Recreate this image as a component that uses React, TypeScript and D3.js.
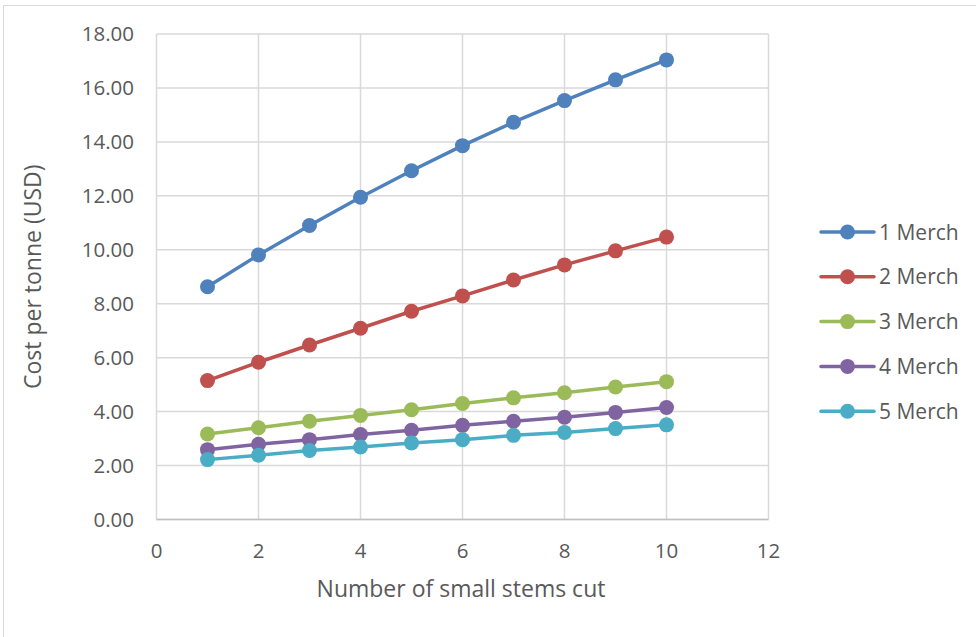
import React from "react";
import * as d3 from "d3";

const xValues = [1, 2, 3, 4, 5, 6, 7, 8, 9, 10];
const seriesNames = ["1 Merch", "2 Merch", "3 Merch", "4 Merch", "5 Merch"];
const merch1 = [8.63, 9.81, 10.9, 11.95, 12.93, 13.86, 14.73, 15.53, 16.3, 17.04];
const merch2 = [5.15, 5.83, 6.47, 7.09, 7.72, 8.29, 8.88, 9.44, 9.96, 10.47];
const merch3 = [3.17, 3.4, 3.64, 3.86, 4.07, 4.3, 4.51, 4.7, 4.91, 5.11];
const merch4 = [2.59, 2.79, 2.96, 3.15, 3.31, 3.49, 3.64, 3.79, 3.97, 4.15];
const merch5 = [2.22, 2.38, 2.56, 2.69, 2.84, 2.96, 3.12, 3.23, 3.37, 3.51];
const seriesValues = [merch1, merch2, merch3, merch4, merch5];
const colors = ["#4F81BD", "#C0504D", "#9BBB59", "#8064A2", "#4BACC6"];
const xTicks = [0, 2, 4, 6, 8, 10, 12];
const yTicks = [0, 2, 4, 6, 8, 10, 12, 14, 16, 18];

const W = 976;
const H = 637;
const font = "'Open Sans', Lato, sans-serif";
const textColor = "#595959";

export default function App() {
  const x = d3.scaleLinear().domain([0, 12]).range([156.5, 768.5]);
  const y = d3.scaleLinear().domain([0, 18]).range([519.5, 34]);
  const line = d3
    .line<number>()
    .x((_, i) => x(xValues[i]))
    .y((d) => y(d));

  const legendY0 = 232;
  const legendStep = 44.8;

  return (
    <svg
      width={W}
      height={H}
      style={{ position: "absolute", left: 0, top: 0, background: "#fff" }}
    >
      <rect x={0} y={0} width={W} height={H} fill="#fff" />
      <rect x={3.5} y={5.5} width={W + 10} height={H + 10} fill="none" stroke="#D9D9D9" strokeWidth={1} />
      {/* gridlines */}
      {yTicks.map((t) => (
        <line key={"gy" + t} x1={x(0)} x2={x(12)} y1={y(t)} y2={y(t)} stroke="#D9D9D9" strokeWidth={1.5} />
      ))}
      {xTicks.map((t) => (
        <line key={"gx" + t} x1={x(t)} x2={x(t)} y1={y(0)} y2={y(18)} stroke="#D9D9D9" strokeWidth={1.5} />
      ))}
      <line x1={x(0)} x2={x(12)} y1={y(0)} y2={y(0)} stroke="#BFBFBF" strokeWidth={1.5} />
      {/* y tick labels */}
      {yTicks.map((t) => (
        <text
          key={"ty" + t}
          x={134}
          y={y(t)}
          dy="0.36em"
          textAnchor="end"
          fontFamily={font}
          fontSize={20.5}
          fill={textColor}
        >
          {d3.format(".2f")(t)}
        </text>
      ))}
      {xTicks.map((t) => (
        <text
          key={"tx" + t}
          x={x(t)}
          y={551}
          dy="0.36em"
          textAnchor="middle"
          fontFamily={font}
          fontSize={20.5}
          fill={textColor}
        >
          {t}
        </text>
      ))}
      {/* axis titles */}
      <text
        x={461}
        y={589}
        dy="0.36em"
        textAnchor="middle"
        fontFamily={font}
        fontSize={23}
        fill={textColor}
      >
        Number of small stems cut
      </text>
      <text
        transform={`translate(33,${(y(0) + y(18)) / 2}) rotate(-90)`}
        dy="0.36em"
        textAnchor="middle"
        fontFamily={font}
        fontSize={23}
        fill={textColor}
      >
        Cost per tonne (USD)
      </text>
      {/* series */}
      {seriesValues.map((vals, si) => (
        <g key={"s" + si}>
          <path d={line(vals) || ""} fill="none" stroke={colors[si]} strokeWidth={3.5} strokeLinejoin="round" />
          {vals.map((v, i) => (
            <circle key={i} cx={x(xValues[i])} cy={y(v)} r={7.5} fill={colors[si]} />
          ))}
        </g>
      ))}
      {/* legend */}
      {seriesNames.map((name, si) => {
        const ly = legendY0 + si * legendStep;
        return (
          <g key={"l" + si}>
            <line x1={821} x2={874} y1={ly} y2={ly} stroke={colors[si]} strokeWidth={3.5} strokeLinecap="round" />
            <circle cx={847.5} cy={ly} r={7.5} fill={colors[si]} />
            <text x={879} y={ly} dy="0.36em" fontFamily={font} fontSize={21} fill={textColor}>
              {name}
            </text>
          </g>
        );
      })}
    </svg>
  );
}
